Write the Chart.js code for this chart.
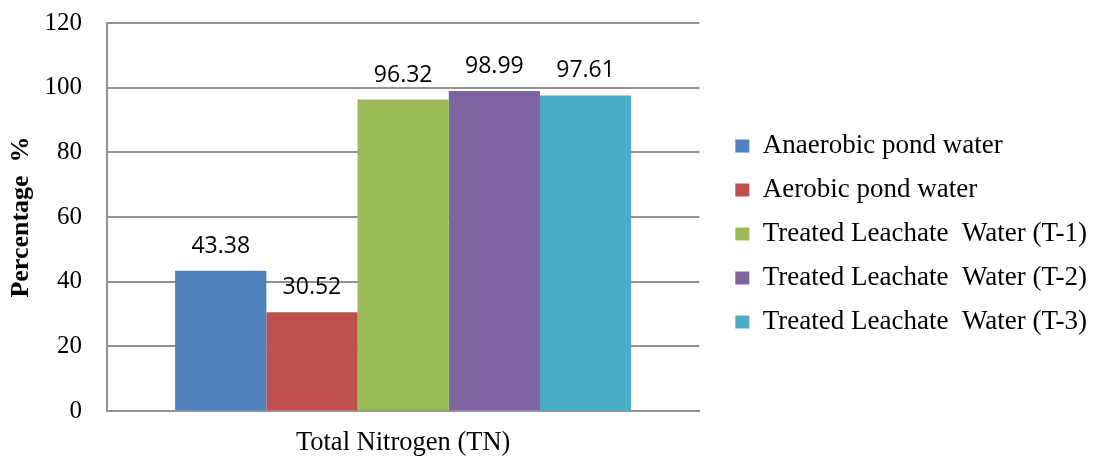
<!DOCTYPE html>
<html>
<head>
<meta charset="utf-8">
<script src="https://cdn.jsdelivr.net/npm/chart.js@4.4.1/dist/chart.umd.min.js"></script>
<style>
  html, body { margin: 0; padding: 0; background: #ffffff; }
  canvas { display: block; }
</style>
</head>
<body>
<canvas id="chart" width="1094" height="459"></canvas>
<script>
// Category on the x axis
const categories = ['Total Nitrogen (TN)'];

// Series names (legend entries)
const seriesNames = [
  'Anaerobic pond water',
  'Aerobic pond water',
  'Treated Leachate  Water (T-1)',
  'Treated Leachate  Water (T-2)',
  'Treated Leachate  Water (T-3)'
];

// Removal percentages per series
const anaerobicPond = [43.38];
const aerobicPond   = [30.52];
const treatedT1     = [96.32];
const treatedT2     = [98.99];
const treatedT3     = [97.61];

// Y axis tick values
const yTicks = [0, 20, 40, 60, 80, 100, 120];

const seriesColors = ['#4F81BD', '#C0504D', '#9BBB59', '#8064A2', '#4BACC6'];
const seriesValues = [anaerobicPond, aerobicPond, treatedT1, treatedT2, treatedT3];

const SERIF = '"Liberation Serif", "Times New Roman", serif';
const GRID = '#939393';

// Writes each bar's value above it
const valueLabels = {
  id: 'valueLabels',
  afterDatasetsDraw(chart) {
    const ctx = chart.ctx;
    ctx.save();
    ctx.font = '23px "Open Sans", sans-serif';
    ctx.fillStyle = '#000000';
    ctx.textAlign = 'center';
    ctx.textBaseline = 'alphabetic';
    chart.data.datasets.forEach((ds, i) => {
      const meta = chart.getDatasetMeta(i);
      meta.data.forEach((bar, j) => {
        ctx.fillText(ds.data[j].toFixed(2), bar.x, bar.y - 18);
      });
    });
    ctx.restore();
  }
};

// Lets the right-hand legend take its full text width and
// nudges its column so it sits level with the middle of the canvas
const legendPlacement = {
  id: 'legendPlacement',
  beforeLayout(chart) {
    const lg = chart.legend;
    if (lg && !lg._widened) {
      const baseUpdate = lg.update;
      lg.update = function (maxWidth, maxHeight, margins) {
        return baseUpdate.call(this, Math.max(maxWidth, 420), maxHeight, margins);
      };
      lg._widened = true;
    }
  },
  afterLayout(chart) {
    const lg = chart.legend;
    if (lg) {
      lg.top -= 7;
      lg.bottom -= 7;
      lg.left += 3;
      lg.right += 3;
    }
  }
};

new Chart(document.getElementById('chart'), {
  type: 'bar',
  data: {
    labels: categories,
    datasets: seriesNames.map((name, i) => ({
      label: name,
      data: seriesValues[i],
      backgroundColor: seriesColors[i],
      borderWidth: 0,
      categoryPercentage: 0.77,
      barPercentage: 1.0
    }))
  },
  options: {
    responsive: false,
    animation: false,
    devicePixelRatio: 1,
    layout: { padding: { left: 0, top: 23, right: 0, bottom: 0 } },
    plugins: {
      tooltip: { enabled: false },
      legend: {
        position: 'right',
        labels: {
          boxWidth: 14,
          boxHeight: 13,
          padding: 17,
          color: '#000000',
          font: { family: SERIF, size: 27 }
        }
      }
    },
    scales: {
      x: {
        grid: { display: false, drawTicks: false },
        border: { display: true, color: GRID, width: 2 },
        ticks: {
          color: '#000000',
          padding: 16,
          font: { family: SERIF, size: 26.5 }
        },
        afterFit(scale) {
          scale.height = 48;
          scale.paddingLeft = 0;
          scale.paddingRight = 0;
        }
      },
      y: {
        min: 0,
        max: 120,
        afterBuildTicks(scale) {
          scale.ticks = yTicks.map(v => ({ value: v }));
        },
        grid: { color: GRID, lineWidth: 2, drawTicks: false },
        border: { display: true, color: GRID, width: 2 },
        ticks: {
          color: '#000000',
          padding: 25,
          font: { family: SERIF, size: 25 }
        },
        title: {
          display: true,
          text: 'Percentage  %',
          color: '#000000',
          padding: { top: 6, bottom: 7 },
          font: { family: SERIF, size: 26, weight: 'bold' }
        },
        afterFit(scale) {
          scale.width = 107;
          scale.paddingTop = 0;
          scale.paddingBottom = 0;
        }
      },
      gap: {
        position: 'right',
        display: true,
        grid: { display: false, drawTicks: false },
        border: { display: false },
        ticks: { display: false },
        afterFit(scale) {
          scale.width = 16;
          scale.paddingTop = 0;
          scale.paddingBottom = 0;
        }
      }
    }
  },
  plugins: [valueLabels, legendPlacement]
});
</script>
</body>
</html>
